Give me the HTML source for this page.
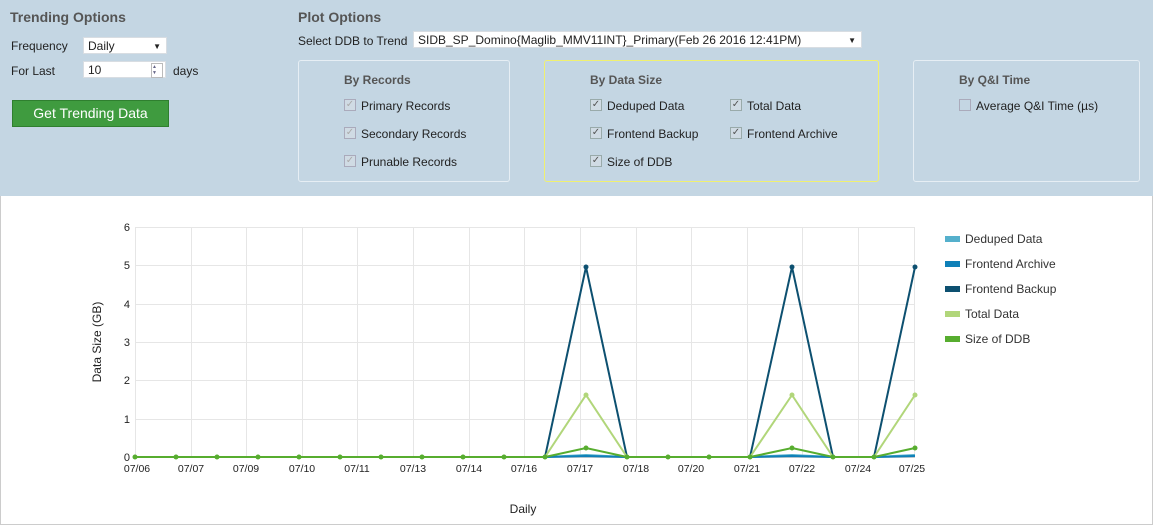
<!DOCTYPE html>
<html><head><style>
body{margin:0;width:1153px;height:525px;overflow:hidden;font-family:"Liberation Sans",sans-serif;font-size:12px;color:#222;background:#fff}
.top{position:absolute;left:0;top:0;width:1153px;height:196px;background:#c4d6e3}
.a{position:absolute;white-space:nowrap}
.h{font-weight:bold;font-size:14px;color:#555}
.sel{position:absolute;background:#fff;border:1px solid #d8dde2;height:17px;line-height:17px;padding-left:4px;box-sizing:border-box}
.box{position:absolute;border:1px solid #e6eef4;border-radius:3px}
.bh{font-weight:bold;color:#555}
.cb{position:absolute;width:10px;height:10px;border:1px solid #9aa;background:#d0dbe4;font-size:10px;line-height:10px;text-align:center;color:#555}
.cb.d{color:#aaa;border-color:#aab}
.bot{position:absolute;left:0;top:196px;width:1151px;height:328px;border:1px solid #ccc;border-top:none}
</style></head><body>
<div class="top">
<div class="a h" style="left:10px;top:9px">Trending Options</div>
<div class="a" style="left:11px;top:39px">Frequency</div>
<div class="sel" style="left:83px;top:37px;width:84px">Daily<span style="position:absolute;right:5px;font-size:8px">▼</span></div>
<div class="a" style="left:11px;top:64px">For Last</div>
<div class="sel" style="left:83px;top:61px;width:83px">10<span style="position:absolute;right:2px;top:1px;width:10px;height:13px;border:1px solid #bbb;font-size:5px;line-height:6px;color:#668">▲<br>▼</span></div>
<div class="a" style="left:173px;top:64px">days</div>
<div class="a" style="left:12px;top:100px;width:155px;height:25px;background:#3f9b3f;border:1px solid #2f7f2f;color:#fff;font-size:14px;line-height:25px;text-align:center">Get Trending Data</div>
<div class="a h" style="left:298px;top:9px">Plot Options</div>
<div class="a" style="left:298px;top:34px">Select DDB to Trend</div>
<div class="sel" style="left:413px;top:31px;width:449px">SIDB_SP_Domino{Maglib_MMV11INT}_Primary(Feb 26 2016 12:41PM)<span style="position:absolute;right:5px;font-size:8px">▼</span></div>
<div class="box" style="left:298px;top:60px;width:210px;height:120px"></div>
<div class="a bh" style="left:344px;top:73px">By Records</div>
<div class="cb d" style="left:344px;top:99px">✓</div><div class="a" style="left:361px;top:99px">Primary Records</div>
<div class="cb d" style="left:344px;top:127px">✓</div><div class="a" style="left:361px;top:127px">Secondary Records</div>
<div class="cb d" style="left:344px;top:155px">✓</div><div class="a" style="left:361px;top:155px">Prunable Records</div>
<div class="box" style="left:544px;top:60px;width:333px;height:120px;border-color:#f0f070"></div>
<div class="a bh" style="left:590px;top:73px">By Data Size</div>
<div class="cb" style="left:590px;top:99px">✓</div><div class="a" style="left:607px;top:99px">Deduped Data</div>
<div class="cb" style="left:730px;top:99px">✓</div><div class="a" style="left:747px;top:99px">Total Data</div>
<div class="cb" style="left:590px;top:127px">✓</div><div class="a" style="left:607px;top:127px">Frontend Backup</div>
<div class="cb" style="left:730px;top:127px">✓</div><div class="a" style="left:747px;top:127px">Frontend Archive</div>
<div class="cb" style="left:590px;top:155px">✓</div><div class="a" style="left:607px;top:155px">Size of DDB</div>
<div class="box" style="left:913px;top:60px;width:225px;height:120px"></div>
<div class="a bh" style="left:959px;top:73px">By Q&amp;I Time</div>
<div class="cb d" style="left:959px;top:99px;background:#c4d6e3"></div><div class="a" style="left:976px;top:99px">Average Q&amp;I Time (µs)</div>
</div>
<div class="bot"></div>
<svg style="position:absolute;left:0;top:0" width="1153" height="525" font-family="Liberation Sans" font-size="11">
<g stroke="#e6e6e6" stroke-width="1">
<line x1="135" y1="227.5" x2="915" y2="227.5"/><line x1="135" y1="265.5" x2="915" y2="265.5"/><line x1="135" y1="304.5" x2="915" y2="304.5"/><line x1="135" y1="342.5" x2="915" y2="342.5"/><line x1="135" y1="380.5" x2="915" y2="380.5"/><line x1="135" y1="419.5" x2="915" y2="419.5"/>
</g>
<g stroke="#e6e6e6">
<line x1="135.5" y1="227" x2="135.5" y2="457"/><line x1="191.5" y1="227" x2="191.5" y2="457"/><line x1="246.5" y1="227" x2="246.5" y2="457"/><line x1="302.5" y1="227" x2="302.5" y2="457"/><line x1="357.5" y1="227" x2="357.5" y2="457"/><line x1="413.5" y1="227" x2="413.5" y2="457"/><line x1="469.5" y1="227" x2="469.5" y2="457"/><line x1="524.5" y1="227" x2="524.5" y2="457"/><line x1="580.5" y1="227" x2="580.5" y2="457"/><line x1="636.5" y1="227" x2="636.5" y2="457"/><line x1="691.5" y1="227" x2="691.5" y2="457"/><line x1="747.5" y1="227" x2="747.5" y2="457"/><line x1="802.5" y1="227" x2="802.5" y2="457"/><line x1="858.5" y1="227" x2="858.5" y2="457"/><line x1="914.5" y1="227" x2="914.5" y2="457"/>
</g>
<line x1="135" y1="457.5" x2="915" y2="457.5" stroke="#ccc"/>
<g fill="#222" text-anchor="end">
<text x="130" y="231">6</text><text x="130" y="269">5</text><text x="130" y="308">4</text><text x="130" y="346">3</text><text x="130" y="384">2</text><text x="130" y="423">1</text><text x="130" y="461">0</text>
</g>
<g fill="#222" text-anchor="middle" font-size="10.5">
<text x="137" y="472">07/06</text><text x="191" y="472">07/07</text><text x="246" y="472">07/09</text><text x="302" y="472">07/10</text><text x="357" y="472">07/11</text><text x="413" y="472">07/13</text><text x="469" y="472">07/14</text><text x="524" y="472">07/16</text><text x="580" y="472">07/17</text><text x="636" y="472">07/18</text><text x="691" y="472">07/20</text><text x="747" y="472">07/21</text><text x="802" y="472">07/22</text><text x="858" y="472">07/24</text><text x="912" y="472">07/25</text>
</g>
<text x="101" y="342" transform="rotate(-90 101 342)" text-anchor="middle" fill="#222" font-size="12">Data Size (GB)</text>
<text x="523" y="513" text-anchor="middle" fill="#222" font-size="12">Daily</text>
<g fill="none" stroke-width="2">
<polyline stroke="#55b0cc" points="135,457 545,457 586,455 627,457 750,457 792,455 833,457 874,457 915,455"/>
<polyline stroke="#0f80b8" points="135,457 545,457 586,456 627,457 750,457 792,456 833,457 874,457 915,456"/>
<polyline stroke="#0d5070" points="135,457 545,457 586,267 627,457 750,457 792,267 833,457 874,457 915,267"/>
<polyline stroke="#b1d67a" points="135,457 545,457 586,395 627,457 750,457 792,395 833,457 874,457 915,395"/>
<polyline stroke="#57ad2f" points="135,457 545,457 586,448 627,457 750,457 792,448 833,457 874,457 915,448"/>
</g>
<g fill="#57ad2f">
<circle cx="135" cy="457" r="2.5"/><circle cx="176" cy="457" r="2.5"/><circle cx="217" cy="457" r="2.5"/><circle cx="258" cy="457" r="2.5"/><circle cx="299" cy="457" r="2.5"/><circle cx="340" cy="457" r="2.5"/><circle cx="381" cy="457" r="2.5"/><circle cx="422" cy="457" r="2.5"/><circle cx="463" cy="457" r="2.5"/><circle cx="504" cy="457" r="2.5"/><circle cx="545" cy="457" r="2.5"/><circle cx="627" cy="457" r="2.5"/><circle cx="668" cy="457" r="2.5"/><circle cx="709" cy="457" r="2.5"/><circle cx="750" cy="457" r="2.5"/><circle cx="833" cy="457" r="2.5"/><circle cx="874" cy="457" r="2.5"/>
<circle cx="586" cy="448" r="2.5"/><circle cx="792" cy="448" r="2.5"/><circle cx="915" cy="448" r="2.5"/>
</g>
<g fill="#0d5070"><circle cx="586" cy="267" r="2.5"/><circle cx="792" cy="267" r="2.5"/><circle cx="915" cy="267" r="2.5"/></g>
<g fill="#b1d67a"><circle cx="586" cy="395" r="2.5"/><circle cx="792" cy="395" r="2.5"/><circle cx="915" cy="395" r="2.5"/></g>
<g font-size="12" fill="#333">
<rect x="945" y="236" width="15" height="6" fill="#55b0cc"/><text x="965" y="243">Deduped Data</text>
<rect x="945" y="261" width="15" height="6" fill="#0f80b8"/><text x="965" y="268">Frontend Archive</text>
<rect x="945" y="286" width="15" height="6" fill="#0d5070"/><text x="965" y="293">Frontend Backup</text>
<rect x="945" y="311" width="15" height="6" fill="#b1d67a"/><text x="965" y="318">Total Data</text>
<rect x="945" y="336" width="15" height="6" fill="#57ad2f"/><text x="965" y="343">Size of DDB</text>
</g>
</svg>
</body></html>
